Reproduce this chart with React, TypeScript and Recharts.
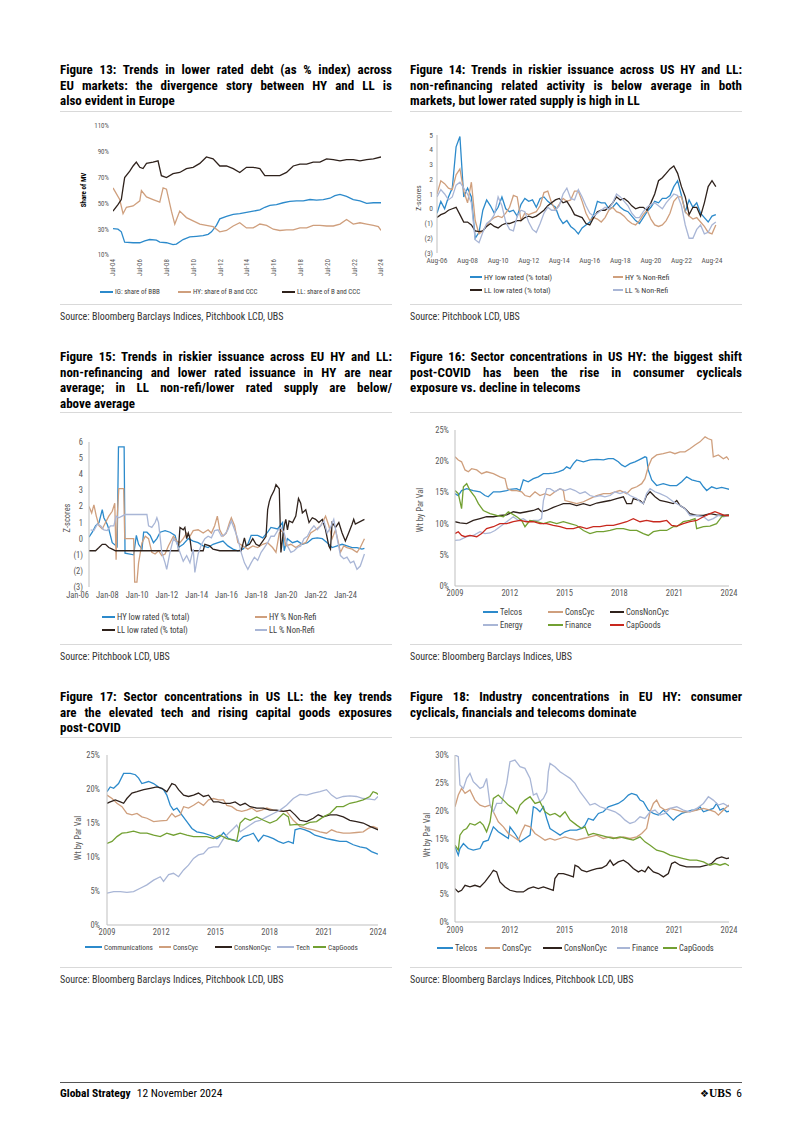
import React from "react";
import { LineChart, Line, XAxis, YAxis } from "recharts";

type Pt = [number, number];

const FONT = '"Liberation Sans Narrow", "Arial Narrow", "Roboto Condensed", Roboto, sans-serif';
const TICK = "#595959";
const AXIS = "#BFBFBF";
const RULE = "#D9D9D9";

const BLUE = "#2C8ACB";
const TAN = "#CF9F7D";
const DARK = "#2F221C";
const GREY = "#A9B6D6";
const GREEN = "#72A032";
const RED = "#C8281E";

// Figure 13 (share of MV, %)
const ig13: Pt[] = [[2004.5,30.5],[2004.87,30],[2005.12,28],[2005.37,20],[2006.0,19.5],[2006.5,19.5],[2006.87,21],[2007.24,22],[2007.74,21.5],[2007.99,20],[2008.49,19.5],[2008.98,18],[2009.23,18.5],[2009.73,22],[2010.23,24],[2010.73,24.5],[2011.22,25],[2011.6,26],[2011.85,28],[2012.22,33],[2012.47,38],[2012.97,40],[2013.47,41.5],[2013.96,42],[2014.46,43],[2014.96,44],[2015.46,45],[2015.83,47],[2016.21,48.5],[2016.7,49],[2017.2,50.5],[2017.7,51.5],[2018.2,52],[2018.7,52],[2019.2,53],[2019.69,52.5],[2020.19,53],[2020.69,54],[2021.06,56],[2021.44,57],[2021.93,55.5],[2022.43,53],[2022.93,52],[2023.43,50],[2023.93,50.5],[2024.5,50.5]];
const hy13: Pt[] = [[2004.5,62],[2005.0,53],[2005.25,42],[2005.5,47],[2006.0,48],[2006.5,52],[2006.62,60],[2007.0,55],[2007.49,53],[2007.99,51],[2008.24,62],[2008.49,61],[2008.86,44],[2009.11,34],[2009.48,44],[2009.98,39],[2010.48,36.5],[2010.98,34],[2011.47,33],[2011.97,32],[2012.47,28],[2012.97,29],[2013.47,32.5],[2013.96,35],[2014.46,31],[2014.96,31],[2015.46,34],[2015.96,33],[2016.46,30],[2016.95,29],[2017.45,29.5],[2017.95,29.5],[2018.45,31],[2018.95,31],[2019.44,33],[2019.94,33],[2020.44,32.5],[2020.94,32.5],[2021.44,34],[2021.93,37.5],[2022.43,34],[2022.93,35],[2023.43,34],[2023.93,33],[2024.3,32],[2024.5,29]];
const ll13: Pt[] = [[2004.5,44],[2004.87,49],[2005.12,53],[2005.25,62],[2005.37,70],[2005.75,75],[2006.0,79],[2006.24,82],[2006.5,78],[2006.74,77],[2007.0,81],[2007.49,82],[2007.86,83],[2008.11,71.5],[2008.49,70],[2008.98,73],[2009.48,74],[2009.98,77],[2010.48,78],[2010.98,81],[2011.47,86],[2011.97,84.5],[2012.47,79],[2012.97,79],[2013.47,77],[2013.96,74],[2014.46,78],[2014.96,78],[2015.46,77],[2015.83,71.5],[2016.46,71.5],[2016.95,71.5],[2017.45,74],[2017.95,79],[2018.45,80.5],[2018.95,80.5],[2019.44,82],[2019.94,82],[2020.44,84.5],[2020.94,84],[2021.44,83],[2021.93,84],[2022.43,84],[2022.93,83],[2023.43,84],[2023.93,84.5],[2024.5,86]];
const xTicks13 = [2004.5, 2006.5, 2008.5, 2010.5, 2012.5, 2014.5, 2016.5, 2018.5, 2020.5, 2022.5, 2024.5];
const xLabels13 = ["Jul-04", "Jul-06", "Jul-08", "Jul-10", "Jul-12", "Jul-14", "Jul-16", "Jul-18", "Jul-20", "Jul-22", "Jul-24"];
const yTicks13 = [10, 30, 50, 70, 90, 110];

// Figure 14 (z-scores, quarterly from Aug-06)
const start14 = 2006.583;
const hyLow14 = [-0.3,0.5,0,0.8,1.4,4.2,4.9,0.8,1.4,0.8,-2.0,-1.6,-0.1,0.6,0.2,-0.3,0.1,0.8,0,-0.2,-0.1,-0.5,0.3,0.7,0.5,0.6,0.1,0.7,0.8,0.5,0.3,0.1,-0.6,-1.0,-0.8,-1.2,-1.4,-1.7,-1.3,-1.1,-0.9,-0.4,0.5,0.4,0.4,0,0.1,0.4,0.1,-0.1,-0.2,-0.5,-0.8,-1.0,-0.6,-0.2,0.1,0.5,0.4,0.7,0.7,0.9,1.5,1.9,0.9,-0.2,0.6,0.1,0.4,-0.3,-0.6,-0.9,-0.5,-0.4];
const hyNonRefi14 = [1.0,1.9,1.7,1.4,1.3,2.3,2.7,1.2,0.4,1.8,-0.8,-1.7,-1.5,-1.1,-0.8,-0.6,-0.5,-0.6,-0.3,0.1,0.9,0.8,-0.8,-0.3,-0.4,-0.3,-0.2,0.2,1.1,1.2,0.4,-0.1,0.3,0.7,0.5,0.6,1.2,1.2,0.5,-0.3,-0.8,-0.6,-0.7,-0.9,-0.6,-0.1,0.1,-0.2,-0.3,-0.5,-0.8,-1.0,-1.1,-0.8,-0.4,-0.1,-0.7,-1.1,-1.2,-1.1,-0.8,-0.3,0.5,0.8,0.8,-0.2,-0.5,-0.7,-0.6,-0.9,-1.2,-1.6,-1.7,-1.1];
const llLow14 = [-0.6,-0.4,-0.3,-0.1,0.0,0.1,-0.4,-0.9,-0.9,-1.1,-1.5,-1.55,-1.5,-1.2,-1.0,-1.2,-1.3,-1.1,-1.0,-1.0,-0.9,-0.8,-0.8,-0.6,-0.5,-0.6,-0.5,-0.3,-0.1,0.2,0.4,0.6,0.7,0.4,0.5,0.1,-0.4,-0.5,-0.6,-1.0,-1.1,-0.6,-0.2,-0.1,-0.1,0.1,0.4,0.8,0.6,0.7,0.5,0.2,0.0,0.1,0.1,-0.1,0.4,1.0,1.9,2.1,2.4,2.7,2.9,2.4,1.5,0.8,-0.4,0.1,0.1,-0.5,0.4,1.5,1.9,1.5];
const llNonRefi14 = [0.8,1.3,1.0,0.6,0.8,1.6,1.8,1.4,1.0,0.4,-2.1,-2.3,-1.6,-1.0,-0.8,-0.4,0.8,0.2,-0.9,-1.4,-1.5,-0.5,-0.1,-0.2,-0.9,-1.4,-1.6,-1.0,-0.3,0.1,-0.1,-0.1,0.2,1.0,1.4,0.7,0.6,1.3,0.8,0.2,-0.3,-0.5,-0.3,-0.1,0.1,0.0,0.4,1.0,0.8,0.5,0.2,-0.3,-0.6,-0.6,-0.2,0.1,0.3,0.4,0.2,0.0,0.4,0.7,1.0,0.9,0.2,-1.1,-2.0,-2.0,-1.4,-1.1,-1.7,-1.6,-1.1,-0.9];
const xTicks14 = [2006.583, 2008.583, 2010.583, 2012.583, 2014.583, 2016.583, 2018.583, 2020.583, 2022.583, 2024.583];
const xLabels14 = ["Aug-06", "Aug-08", "Aug-10", "Aug-12", "Aug-14", "Aug-16", "Aug-18", "Aug-20", "Aug-22", "Aug-24"];
const yTicks14 = [-3, -2, -1, 0, 1, 2, 3, 4, 5];

// Figure 15 (z-scores)
const hyLow15: Pt[] = [[2006.0,0.1],[2006.22,0.4],[2006.44,0.8],[2006.67,1.0],[2006.89,1.8],[2007.0,1.3],[2007.22,0.9],[2007.33,0.6],[2007.56,-0.25],[2007.89,-0.5],[2007.98,5.7],[2008.36,5.7],[2008.42,-0.9],[2009.0,-1.0],[2009.18,0.2],[2009.33,-0.35],[2009.56,-0.65],[2009.67,0.4],[2009.89,0.4],[2010.11,0.2],[2010.33,-0.25],[2010.56,0],[2010.78,0.4],[2011.11,0.5],[2011.44,0.4],[2011.78,0.2],[2012.0,-0.55],[2012.33,-0.35],[2012.67,0],[2013.0,-0.15],[2013.33,-0.25],[2013.67,-0.45],[2014.0,-0.55],[2014.33,-0.35],[2014.67,-0.25],[2015.0,-0.15],[2015.33,-0.45],[2015.67,-0.65],[2016.0,-0.75],[2016.33,-0.65],[2016.67,-0.35],[2016.89,0.2],[2017.33,0.2],[2017.67,0.05],[2018.0,0.4],[2018.22,0.7],[2018.67,0.6],[2019.0,1.0],[2019.11,-0.75],[2019.33,0],[2019.67,-0.25],[2020.0,-0.15],[2020.33,-0.35],[2020.67,-0.25],[2021.0,0],[2021.33,0.05],[2021.67,0],[2022.0,-0.25],[2022.33,-0.55],[2022.67,-0.45],[2023.0,-0.35],[2023.33,-0.45],[2023.67,-0.55],[2024.0,-0.55],[2024.33,-0.65],[2024.5,-0.6]];
const hyNonRefi15: Pt[] = [[2006.0,2.0],[2006.18,1.6],[2006.33,2.1],[2006.49,1.4],[2006.67,0.8],[2006.89,0.6],[2007.11,1.0],[2007.33,1.4],[2007.56,1.7],[2007.73,2.2],[2007.82,-1.3],[2007.91,1.6],[2008.0,3.1],[2008.33,3.1],[2008.4,0],[2009.0,0],[2009.07,-2.7],[2009.22,-2.7],[2009.33,-1.5],[2009.56,-0.25],[2009.78,0.15],[2010.0,0],[2010.22,-0.85],[2010.44,-0.95],[2010.67,-0.75],[2010.89,-1.05],[2011.11,-0.95],[2011.33,-0.45],[2011.67,0.15],[2011.89,-0.15],[2012.11,-0.25],[2012.33,0],[2012.56,0.35],[2012.78,0.15],[2013.0,0.5],[2013.33,0.55],[2013.67,0.35],[2014.0,0.55],[2014.22,0.35],[2014.44,0.8],[2014.62,1.4],[2014.78,0.55],[2015.0,0.15],[2015.22,0.35],[2015.44,1.0],[2015.56,1.3],[2015.78,0.8],[2016.0,-0.25],[2016.33,-0.45],[2016.67,-0.65],[2017.0,-0.45],[2017.33,-0.55],[2017.67,-0.35],[2018.0,-0.25],[2018.33,-0.55],[2018.56,-0.85],[2018.78,0.35],[2019.0,0.55],[2019.22,-0.45],[2019.56,-0.35],[2019.89,-0.55],[2020.22,-0.35],[2020.56,-0.25],[2020.89,0.35],[2021.22,0.55],[2021.56,0.8],[2021.89,1.4],[2022.11,0.8],[2022.33,0],[2022.56,0.55],[2022.78,-0.35],[2022.89,-0.85],[2023.11,-0.45],[2023.33,-0.55],[2023.67,-0.65],[2024.0,-0.85],[2024.22,-0.55],[2024.5,0]];
const llLow15: Pt[] = [[2006.0,-0.75],[2006.44,-0.75],[2006.67,-0.55],[2006.89,-0.35],[2007.11,-0.35],[2007.33,-0.55],[2007.56,-0.65],[2007.78,-0.75],[2012.0,-0.75],[2012.11,0.7],[2012.33,0.55],[2012.44,0.7],[2012.56,0],[2012.67,0.35],[2012.78,0],[2012.89,-0.75],[2013.67,-0.75],[2013.78,-0.35],[2014.11,-0.45],[2014.33,-0.65],[2014.78,-0.75],[2016.22,-0.75],[2016.33,-0.35],[2016.44,0.05],[2016.56,-0.45],[2016.78,-0.35],[2017.0,0],[2017.22,-0.35],[2017.44,-0.45],[2017.67,-0.15],[2017.89,0.15],[2018.0,1.8],[2018.11,2.3],[2018.22,2.6],[2018.44,3.0],[2018.56,3.35],[2018.78,3.1],[2018.89,-0.85],[2019.0,0],[2019.11,0.8],[2019.22,1.2],[2019.33,0.55],[2019.44,1.1],[2019.67,1.0],[2019.89,1.4],[2020.07,2.5],[2020.22,2.2],[2020.33,1.6],[2020.56,1.8],[2020.78,1.0],[2021.0,1.3],[2021.22,1.2],[2021.44,1.0],[2021.67,1.2],[2021.89,0.55],[2022.11,-0.45],[2022.22,-0.65],[2022.33,1.0],[2022.56,0.7],[2022.78,1.0],[2023.0,0.35],[2023.22,-0.15],[2023.44,0.35],[2023.67,0.9],[2023.78,1.2],[2023.89,0.9],[2024.5,1.2]];
const llNonRefi15: Pt[] = [[2006.11,0.55],[2006.33,0.5],[2006.56,0.9],[2006.78,0.8],[2007.0,0.55],[2007.22,0.5],[2007.44,0.8],[2007.67,0.8],[2007.82,1.4],[2008.0,1.3],[2008.22,1.4],[2008.44,1.5],[2009.89,1.5],[2010.0,0.8],[2010.22,0.7],[2010.44,1.0],[2010.56,1.3],[2010.67,1.0],[2010.89,-0.85],[2011.11,-1.5],[2011.22,-1.9],[2011.44,-0.85],[2011.67,0],[2011.89,-0.25],[2012.11,-0.85],[2012.33,-1.4],[2012.56,-1.05],[2012.78,-1.5],[2013.0,-0.65],[2013.11,-2.1],[2013.33,-0.95],[2013.56,-0.35],[2013.78,0],[2014.0,0.15],[2014.22,0.05],[2014.44,0.5],[2014.67,0.55],[2014.89,0.15],[2015.11,0.25],[2015.33,0.55],[2015.56,1.1],[2015.78,0.55],[2016.0,0],[2016.22,-0.85],[2016.44,-1.5],[2016.67,-1.9],[2016.89,-1.5],[2017.11,-1.15],[2017.33,-1.35],[2017.56,-0.85],[2017.78,-0.55],[2018.0,-0.25],[2018.22,0.15],[2018.44,0.15],[2018.67,0.5],[2018.89,0.7],[2019.11,0.35],[2019.33,-0.45],[2019.56,-0.85],[2019.78,-0.75],[2020.0,-0.55],[2020.22,-0.45],[2020.44,0],[2020.67,0.15],[2020.89,0.55],[2021.11,0.8],[2021.33,0.55],[2021.56,0.8],[2021.78,1.1],[2022.0,0.35],[2022.22,0.7],[2022.44,1.2],[2022.67,0],[2022.89,-1.05],[2023.11,-1.25],[2023.33,-1.15],[2023.56,-1.5],[2023.78,-1.4],[2024.0,-1.9],[2024.22,-1.7],[2024.5,-0.95]];
const xTicks15 = [2006, 2008, 2010, 2012, 2014, 2016, 2018, 2020, 2022, 2024];
const xLabels15 = ["Jan-06", "Jan-08", "Jan-10", "Jan-12", "Jan-14", "Jan-16", "Jan-18", "Jan-20", "Jan-22", "Jan-24"];
const yTicks15 = [-3, -2, -1, 0, 1, 2, 3, 4, 5, 6];

// Figure 16 (US HY weights, %)
const telcos16: Pt[] = [[2009.0,14.8],[2009.18,14.5],[2009.36,15.3],[2009.64,15.6],[2010.0,15.3],[2010.37,15.1],[2010.64,14.5],[2010.82,14.3],[2011.1,15.1],[2011.46,15.1],[2011.83,15.3],[2012.0,15.5],[2012.38,15.6],[2012.56,15.3],[2012.74,17.0],[2013.01,16.7],[2013.29,17.2],[2013.56,17.5],[2013.84,18.0],[2014.11,18.0],[2014.38,18.1],[2014.66,18.3],[2014.93,18.6],[2015.11,19.1],[2015.3,18.8],[2015.48,19.6],[2015.66,20.2],[2016.03,19.9],[2016.39,20.2],[2016.76,20.3],[2017.13,20.2],[2017.39,20.4],[2017.67,20.4],[2017.94,19.9],[2018.12,19.4],[2018.31,19.1],[2018.58,19.6],[2018.85,19.9],[2019.13,20.3],[2019.4,20.7],[2019.49,20.6],[2019.58,18.6],[2019.77,17.0],[2020.04,16.1],[2020.4,16.4],[2020.77,16.1],[2021.14,16.1],[2021.41,16.7],[2021.68,17.5],[2021.96,17.0],[2022.23,16.8],[2022.41,16.7],[2022.6,15.9],[2022.78,15.3],[2023.05,15.9],[2023.32,15.6],[2023.6,15.8],[2023.87,15.6],[2024.0,15.5]];
const consCyc16: Pt[] = [[2009.0,20.7],[2009.18,20.2],[2009.36,19.9],[2009.55,18.6],[2009.73,18.3],[2009.91,18.8],[2010.19,18.6],[2010.46,18.0],[2010.73,18.3],[2011.1,18.0],[2011.46,17.5],[2011.74,17.2],[2011.87,15.6],[2012.1,15.3],[2012.38,15.3],[2012.65,15.1],[2012.83,14.5],[2013.1,14.3],[2013.38,15.1],[2013.65,14.5],[2013.93,14.8],[2014.2,14.5],[2014.47,15.1],[2014.75,15.6],[2014.93,15.3],[2015.02,13.7],[2015.3,13.5],[2015.66,13.2],[2016.03,13.5],[2016.39,14.0],[2016.76,14.5],[2017.13,14.8],[2017.49,14.8],[2017.76,15.1],[2018.03,15.3],[2018.4,14.8],[2018.67,15.6],[2018.95,15.9],[2019.22,16.4],[2019.4,17.2],[2019.58,19.1],[2019.77,20.4],[2020.04,21.0],[2020.4,21.2],[2020.77,21.5],[2021.04,21.2],[2021.32,21.5],[2021.59,21.5],[2021.86,22.0],[2022.14,22.6],[2022.41,23.1],[2022.69,23.9],[2022.87,23.6],[2023.05,23.4],[2023.14,20.7],[2023.42,21.0],[2023.69,20.4],[2023.87,20.7],[2024.0,20.2]];
const consNonCyc16: Pt[] = [[2009.0,10.3],[2009.27,10.1],[2009.64,10.0],[2010.0,10.5],[2010.37,10.8],[2010.73,11.1],[2011.1,11.1],[2011.46,11.3],[2011.83,11.4],[2012.19,11.9],[2012.56,11.7],[2012.92,11.9],[2013.29,12.1],[2013.56,12.4],[2013.74,11.9],[2014.02,12.1],[2014.38,12.6],[2014.66,12.9],[2014.93,13.2],[2015.3,13.2],[2015.66,12.9],[2016.03,13.2],[2016.39,12.9],[2016.76,13.3],[2017.13,13.5],[2017.49,13.7],[2017.85,14.0],[2018.22,14.3],[2018.4,13.2],[2018.67,13.2],[2018.76,14.0],[2019.13,13.7],[2019.31,13.2],[2019.49,14.5],[2019.68,15.1],[2019.95,14.3],[2020.22,13.7],[2020.59,13.5],[2020.95,13.2],[2021.14,13.7],[2021.32,12.9],[2021.59,12.4],[2021.86,11.6],[2022.23,11.3],[2022.6,11.3],[2022.96,11.6],[2023.32,11.4],[2023.69,11.3],[2024.0,11.4]];
const energy16: Pt[] = [[2009.0,7.3],[2009.27,7.4],[2009.64,7.9],[2010.0,8.1],[2010.37,8.7],[2010.64,8.4],[2010.92,8.5],[2011.19,8.9],[2011.46,9.5],[2011.83,10.3],[2012.19,11.1],[2012.47,10.5],[2012.74,10.8],[2013.01,10.3],[2013.29,10.5],[2013.56,10.5],[2013.74,10.8],[2013.84,13.7],[2014.02,15.6],[2014.2,15.6],[2014.47,15.1],[2014.75,15.6],[2015.02,15.3],[2015.3,15.6],[2015.57,15.3],[2015.84,14.8],[2016.12,15.1],[2016.39,14.5],[2016.66,14.3],[2016.94,14.5],[2017.21,14.3],[2017.49,14.5],[2017.76,15.1],[2018.03,14.8],[2018.31,15.1],[2018.58,14.5],[2018.95,14.0],[2019.13,13.5],[2019.31,13.2],[2019.49,14.8],[2019.68,15.6],[2019.95,15.1],[2020.22,14.8],[2020.59,14.3],[2020.95,13.5],[2021.32,12.9],[2021.59,12.4],[2021.86,11.3],[2022.23,11.3],[2022.6,11.1],[2022.87,10.5],[2023.14,10.8],[2023.42,11.3],[2023.69,11.1],[2024.0,11.3]];
const finance16: Pt[] = [[2009.0,15.3],[2009.18,14.8],[2009.36,12.4],[2009.46,15.9],[2009.64,16.4],[2009.82,15.3],[2010.09,14.3],[2010.28,13.2],[2010.55,12.1],[2010.92,11.6],[2011.28,11.3],[2011.65,11.1],[2011.92,11.9],[2012.1,11.6],[2012.38,11.1],[2012.65,10.5],[2012.83,9.5],[2013.1,10.5],[2013.47,10.3],[2013.84,10.0],[2014.2,10.3],[2014.57,10.0],[2014.93,10.3],[2015.3,10.0],[2015.66,9.7],[2016.03,8.9],[2016.39,8.4],[2016.76,8.7],[2017.13,8.7],[2017.49,8.9],[2017.85,9.2],[2018.22,9.2],[2018.58,8.9],[2018.95,8.9],[2019.31,8.4],[2019.58,8.1],[2019.86,8.7],[2020.22,8.9],[2020.59,8.9],[2020.95,9.5],[2021.14,9.5],[2021.5,10.3],[2021.86,10.5],[2022.14,10.8],[2022.23,9.2],[2022.6,9.5],[2022.96,9.6],[2023.32,10.0],[2023.6,11.1],[2023.87,11.3],[2024.0,11.3]];
const capGoods16: Pt[] = [[2009.0,8.4],[2009.18,8.7],[2009.36,8.1],[2009.55,7.9],[2009.82,8.1],[2010.19,7.9],[2010.46,8.4],[2010.73,9.2],[2011.1,9.5],[2011.46,10.0],[2011.83,10.0],[2012.19,10.3],[2012.56,10.5],[2012.92,10.3],[2013.29,10.3],[2013.65,10.0],[2014.02,10.0],[2014.38,9.7],[2014.75,9.5],[2015.11,9.2],[2015.48,9.2],[2015.84,9.5],[2016.21,9.2],[2016.57,9.5],[2016.94,9.5],[2017.3,9.7],[2017.67,9.7],[2018.03,10.0],[2018.4,10.3],[2018.76,10.8],[2019.13,10.3],[2019.49,10.5],[2019.86,10.3],[2020.22,10.3],[2020.59,10.5],[2020.86,9.7],[2021.14,9.6],[2021.5,10.0],[2021.86,10.3],[2022.23,10.5],[2022.6,11.1],[2022.96,11.6],[2023.23,11.9],[2023.51,11.6],[2023.78,11.3],[2024.0,11.3]];

// Figure 17 (US LL weights, %)
const comms17: Pt[] = [[2009.0,19.6],[2009.18,20.3],[2009.37,20.1],[2009.64,20.8],[2009.92,22.3],[2010.29,22.3],[2010.57,22.1],[2010.75,21.6],[2010.93,20.8],[2011.3,21.1],[2011.58,20.8],[2011.85,20.3],[2012.13,19.9],[2012.31,19.1],[2012.5,17.6],[2012.68,16.9],[2012.87,17.2],[2013.14,16.2],[2013.42,15.2],[2013.7,14.2],[2013.97,13.7],[2014.34,13.5],[2014.71,13.2],[2015.08,12.7],[2015.26,13.0],[2015.45,13.6],[2015.72,12.7],[2016.0,12.5],[2016.27,12.3],[2016.55,13.0],[2016.83,13.2],[2017.1,13.5],[2017.38,12.3],[2017.66,13.2],[2017.93,13.0],[2018.21,12.7],[2018.48,12.3],[2018.76,12.0],[2019.04,12.3],[2019.31,12.0],[2019.41,14.0],[2019.68,14.2],[2019.96,14.0],[2020.23,13.7],[2020.51,13.2],[2020.79,13.0],[2021.15,12.7],[2021.52,12.5],[2021.89,12.3],[2022.26,12.3],[2022.63,11.8],[2023.0,11.5],[2023.36,11.3],[2023.64,10.8],[2023.92,10.5],[2024.0,10.4]];
const consCyc17: Pt[] = [[2009.0,19.1],[2009.28,18.6],[2009.55,17.9],[2009.83,17.4],[2010.1,16.4],[2010.38,16.2],[2010.66,16.4],[2010.93,15.9],[2011.21,15.7],[2011.58,15.2],[2011.95,15.3],[2012.31,15.4],[2012.59,16.4],[2012.78,15.9],[2013.05,16.2],[2013.24,17.4],[2013.51,17.2],[2013.79,17.6],[2014.06,18.1],[2014.34,17.6],[2014.62,18.4],[2014.89,18.6],[2015.17,18.4],[2015.45,18.4],[2015.63,17.6],[2015.91,17.4],[2016.18,16.9],[2016.46,16.7],[2016.73,16.9],[2017.01,17.2],[2017.29,16.7],[2017.56,16.9],[2017.84,17.2],[2018.21,16.9],[2018.58,16.7],[2018.94,16.7],[2019.31,15.4],[2019.68,14.5],[2020.05,14.2],[2020.42,14.0],[2020.79,13.7],[2021.15,13.5],[2021.43,14.0],[2021.71,13.7],[2022.08,13.5],[2022.44,13.5],[2022.81,13.6],[2023.18,13.7],[2023.46,14.2],[2023.73,14.5],[2024.0,14.2]];
const consNonCyc17: Pt[] = [[2009.0,17.9],[2009.18,18.1],[2009.46,18.4],[2009.74,18.1],[2009.92,17.9],[2010.1,18.6],[2010.38,19.4],[2010.66,19.6],[2011.03,19.9],[2011.39,20.1],[2011.76,20.3],[2012.04,20.1],[2012.31,19.6],[2012.59,20.8],[2012.78,20.6],[2012.96,19.9],[2013.24,19.1],[2013.51,18.9],[2013.79,19.1],[2014.06,19.4],[2014.34,18.9],[2014.62,19.1],[2014.89,18.1],[2015.17,18.1],[2015.45,17.9],[2015.81,17.9],[2016.09,18.1],[2016.37,17.6],[2016.64,17.9],[2016.92,17.4],[2017.29,17.2],[2017.66,17.2],[2018.02,16.9],[2018.39,16.9],[2018.76,16.7],[2019.13,16.9],[2019.41,16.2],[2019.68,15.4],[2020.05,15.2],[2020.42,15.7],[2020.69,16.2],[2020.97,15.9],[2021.34,16.2],[2021.71,16.2],[2022.08,15.9],[2022.44,15.4],[2022.81,15.2],[2023.18,15.0],[2023.55,14.5],[2023.82,14.2],[2024.0,14.0]];
const tech17: Pt[] = [[2009.0,4.7],[2009.37,4.9],[2009.74,4.9],[2010.1,4.8],[2010.47,4.9],[2010.84,5.4],[2011.21,5.9],[2011.58,6.6],[2011.95,7.1],[2012.13,6.4],[2012.41,7.4],[2012.68,7.6],[2012.96,7.1],[2013.24,8.1],[2013.51,8.8],[2013.79,9.8],[2014.06,10.3],[2014.34,10.5],[2014.62,11.3],[2014.89,11.5],[2015.17,11.5],[2015.45,12.7],[2015.72,13.5],[2016.0,14.2],[2016.18,14.7],[2016.37,13.7],[2016.64,14.2],[2016.92,14.7],[2017.2,15.2],[2017.47,15.4],[2017.84,15.9],[2018.21,16.4],[2018.58,16.9],[2018.94,17.6],[2019.31,18.6],[2019.68,19.2],[2020.05,19.1],[2020.42,19.4],[2020.79,19.6],[2021.15,19.9],[2021.43,19.1],[2021.71,18.6],[2022.08,18.9],[2022.44,19.0],[2022.81,18.9],[2023.18,18.6],[2023.55,18.5],[2023.82,18.4],[2024.0,18.9]];
const capGoods17: Pt[] = [[2009.0,12.0],[2009.28,12.3],[2009.55,13.0],[2009.83,13.5],[2010.1,13.6],[2010.47,13.8],[2010.84,13.5],[2011.21,13.5],[2011.58,13.2],[2011.95,13.0],[2012.31,13.5],[2012.68,13.2],[2013.05,13.5],[2013.42,13.2],[2013.79,13.0],[2014.16,13.0],[2014.52,13.0],[2014.89,12.7],[2015.26,13.2],[2015.63,12.7],[2016.0,12.5],[2016.18,12.3],[2016.37,15.0],[2016.64,15.7],[2016.92,15.4],[2017.29,15.9],[2017.66,15.4],[2018.02,15.0],[2018.39,15.4],[2018.76,16.4],[2019.04,15.9],[2019.13,14.7],[2019.5,14.8],[2019.87,14.7],[2020.23,15.1],[2020.6,15.2],[2020.97,15.9],[2021.34,16.4],[2021.71,17.4],[2022.08,17.4],[2022.44,17.9],[2022.81,18.1],[2023.18,18.4],[2023.55,18.9],[2023.73,19.6],[2023.92,19.4],[2024.0,19.2]];

// Figure 18 (EU HY weights, %)
const telcos18: Pt[] = [[2009.0,13.5],[2009.18,12.0],[2009.27,13.2],[2009.46,14.1],[2009.73,13.2],[2010.0,12.9],[2010.37,13.2],[2010.55,14.4],[2010.82,14.7],[2011.1,17.1],[2011.37,16.2],[2011.65,15.6],[2011.92,15.0],[2012.01,17.1],[2012.28,15.9],[2012.56,14.4],[2012.83,15.0],[2013.11,15.6],[2013.29,20.7],[2013.47,20.4],[2013.65,19.8],[2013.84,20.7],[2014.02,18.6],[2014.2,16.8],[2014.47,16.2],[2014.75,15.6],[2015.02,16.2],[2015.3,16.5],[2015.66,16.5],[2015.93,16.8],[2016.12,17.4],[2016.3,18.6],[2016.57,18.3],[2016.85,19.5],[2017.12,19.8],[2017.39,20.7],[2017.67,21.0],[2017.94,21.3],[2018.22,21.9],[2018.49,22.8],[2018.67,23.1],[2018.95,22.8],[2019.13,21.9],[2019.31,21.6],[2019.58,20.1],[2019.86,19.5],[2020.13,19.2],[2020.41,20.1],[2020.68,19.2],[2020.95,18.3],[2021.14,18.9],[2021.41,19.5],[2021.68,19.8],[2021.96,20.1],[2022.23,20.1],[2022.41,20.7],[2022.6,19.8],[2022.87,20.1],[2023.14,20.4],[2023.32,21.3],[2023.51,20.1],[2023.69,20.4],[2023.87,19.8],[2024.0,19.9]];
const consCyc18: Pt[] = [[2009.0,20.7],[2009.18,22.8],[2009.36,24.0],[2009.55,23.1],[2009.82,23.7],[2010.09,21.9],[2010.37,21.0],[2010.64,20.7],[2010.92,21.0],[2011.1,19.8],[2011.37,18.0],[2011.65,17.1],[2011.92,15.9],[2012.19,15.3],[2012.47,14.7],[2012.65,16.2],[2012.83,17.4],[2013.11,17.1],[2013.38,15.9],[2013.65,15.3],[2013.93,14.7],[2014.2,15.0],[2014.47,14.7],[2014.75,15.0],[2015.02,15.3],[2015.3,15.0],[2015.66,14.7],[2016.03,15.0],[2016.39,15.3],[2016.76,15.6],[2017.12,15.0],[2017.49,15.3],[2017.85,15.0],[2018.22,15.3],[2018.58,15.0],[2018.95,15.3],[2019.22,15.9],[2019.49,16.8],[2019.68,19.8],[2019.86,21.3],[2020.04,21.9],[2020.22,20.7],[2020.5,20.1],[2020.77,20.4],[2021.14,20.1],[2021.5,19.8],[2021.86,19.8],[2022.23,20.1],[2022.6,20.4],[2022.96,20.1],[2023.23,19.8],[2023.42,19.2],[2023.6,19.8],[2023.78,20.4],[2024.0,21.0]];
const consNonCyc18: Pt[] = [[2009.0,6.0],[2009.18,5.4],[2009.36,5.7],[2009.55,6.6],[2009.82,6.3],[2010.09,6.6],[2010.37,6.3],[2010.64,7.2],[2010.92,8.4],[2011.1,9.3],[2011.28,9.0],[2011.46,7.2],[2011.74,6.3],[2012.01,5.7],[2012.38,5.4],[2012.74,5.4],[2013.01,6.0],[2013.29,6.3],[2013.56,6.0],[2013.84,6.3],[2014.11,6.0],[2014.38,5.7],[2014.47,7.8],[2014.66,8.7],[2014.93,8.7],[2015.2,8.4],[2015.48,8.1],[2015.57,10.2],[2015.75,9.9],[2015.93,9.3],[2016.21,9.0],[2016.48,9.3],[2016.76,9.6],[2017.03,9.7],[2017.3,10.2],[2017.49,11.1],[2017.67,10.2],[2017.94,10.8],[2018.22,11.1],[2018.49,10.5],[2018.76,9.6],[2019.04,9.0],[2019.22,9.3],[2019.4,9.0],[2019.58,9.9],[2019.86,9.0],[2020.13,8.7],[2020.41,8.1],[2020.68,8.7],[2020.86,10.5],[2021.04,10.8],[2021.32,10.2],[2021.68,9.9],[2022.05,9.9],[2022.41,9.9],[2022.78,10.2],[2023.05,10.5],[2023.32,11.4],[2023.6,11.7],[2023.87,11.4],[2024.0,11.5]];
const finance18: Pt[] = [[2009.0,30.0],[2009.18,29.7],[2009.27,24.6],[2009.46,24.0],[2009.64,25.8],[2009.82,26.7],[2010.0,25.2],[2010.19,24.6],[2010.37,24.0],[2010.55,24.3],[2010.73,25.8],[2010.92,21.0],[2011.1,19.8],[2011.28,21.3],[2011.55,21.3],[2011.83,24.9],[2012.01,28.8],[2012.28,29.1],[2012.56,27.9],[2012.83,27.6],[2013.11,25.8],[2013.29,22.8],[2013.47,23.1],[2013.65,21.6],[2013.84,22.2],[2014.02,23.4],[2014.11,27.0],[2014.2,28.5],[2014.47,27.9],[2014.75,27.0],[2015.02,26.4],[2015.3,25.8],[2015.57,24.9],[2015.84,23.4],[2016.12,22.2],[2016.39,21.0],[2016.66,21.3],[2016.94,20.7],[2017.21,20.4],[2017.49,20.1],[2017.76,19.8],[2018.03,19.2],[2018.31,18.3],[2018.58,17.7],[2018.85,18.0],[2019.13,18.9],[2019.4,18.6],[2019.68,19.8],[2019.95,20.1],[2020.22,19.2],[2020.5,19.5],[2020.77,20.4],[2021.14,20.7],[2021.5,20.1],[2021.86,19.8],[2022.23,20.4],[2022.6,21.3],[2022.87,22.5],[2023.14,21.9],[2023.42,21.0],[2023.69,21.3],[2024.0,20.7]];
const capGoods18: Pt[] = [[2009.0,13.8],[2009.18,12.9],[2009.27,15.6],[2009.46,16.5],[2009.64,16.8],[2009.82,17.7],[2010.09,17.4],[2010.37,18.0],[2010.55,17.4],[2010.73,16.2],[2010.92,18.0],[2011.1,22.2],[2011.37,22.8],[2011.65,21.9],[2011.92,21.0],[2012.19,20.4],[2012.38,19.5],[2012.56,21.0],[2012.83,21.9],[2013.11,22.5],[2013.38,21.3],[2013.65,21.6],[2013.93,19.8],[2014.2,19.2],[2014.47,19.5],[2014.75,18.9],[2015.02,19.8],[2015.3,18.3],[2015.66,17.4],[2015.93,16.8],[2016.12,17.1],[2016.3,15.6],[2016.57,15.9],[2016.94,15.6],[2017.3,15.3],[2017.67,15.0],[2018.03,15.3],[2018.4,15.0],[2018.76,14.7],[2019.13,15.3],[2019.4,14.4],[2019.68,13.8],[2020.04,12.9],[2020.41,12.6],[2020.77,12.0],[2021.14,11.7],[2021.5,11.4],[2021.86,11.1],[2022.23,11.1],[2022.6,10.8],[2022.96,10.2],[2023.23,10.5],[2023.51,10.2],[2023.78,10.5],[2024.0,10.1]];

const yearTicks = [2009, 2012, 2015, 2018, 2021, 2024];
const yearLabels = ["2009", "2012", "2015", "2018", "2021", "2024"];
const pctTicks25 = [0, 5, 10, 15, 20, 25];
const pctTicks30 = [0, 5, 10, 15, 20, 25, 30];

const quarterly = (start: number, vals: number[]): Pt[] => vals.map((v, i) => [start + i * 0.25, v]);
const zFmt = (v: number) => (v < 0 ? `(${-v})` : `${v}`);
const pctFmt = (v: number) => `${v}%`;

type Series = { name: string; pts: Pt[]; color: string };
type PanelProps = {
  left: number; top: number; width: number; height: number;
  mTop: number; mRight: number; yWidth: number; xHeight: number;
  xDomain: [number, number]; xTicks: number[]; xLabels: string[]; xMode: "rot" | "mid" | "end"; xGap: number;
  yDomain: [number, number]; yTicks: number[]; yFmt: (v: number) => string; yGap: number;
  axisX: boolean; axisY: boolean; fs: number; series: Series[];
};

function Panel(p: PanelProps) {
  const xTick = (tp: any) => {
    const i = p.xTicks.indexOf(tp.payload.value);
    const label = i >= 0 ? p.xLabels[i] : "";
    if (p.xMode === "rot") {
      return (
        <text x={tp.x} y={tp.y} transform={`rotate(-90 ${tp.x} ${tp.y})`} textAnchor="end" dy="0.35em" fill={TICK} fontSize={p.fs} fontFamily={FONT}>
          {label}
        </text>
      );
    }
    return (
      <text x={tp.x} y={tp.y} textAnchor={p.xMode === "end" ? "end" : "middle"} dy="0.71em" fill={TICK} fontSize={p.fs} fontFamily={FONT}>
        {label}
      </text>
    );
  };
  return (
    <div style={{ position: "absolute", left: p.left, top: p.top }}>
      <LineChart width={p.width} height={p.height} margin={{ top: p.mTop, right: p.mRight, bottom: 0, left: 0 }}>
        <XAxis dataKey="t" type="number" domain={p.xDomain} ticks={p.xTicks} interval={0} allowDataOverflow height={p.xHeight}
          tickSize={0} tickMargin={p.xGap} tickLine={false} axisLine={p.axisX ? { stroke: AXIS } : false} tick={xTick} />
        <YAxis type="number" domain={p.yDomain} ticks={p.yTicks} interval={0} allowDataOverflow width={p.yWidth}
          tickSize={0} tickMargin={p.yGap} tickLine={false} axisLine={p.axisY ? { stroke: AXIS } : false}
          tickFormatter={p.yFmt} tick={{ fill: TICK, fontSize: p.fs, fontFamily: FONT }} />
        {p.series.map((s) => (
          <Line key={s.name} data={s.pts.map(([t, v]) => ({ t, v }))} dataKey="v" name={s.name} type="linear"
            stroke={s.color} strokeWidth={1.3} dot={false} isAnimationActive={false} />
        ))}
      </LineChart>
    </div>
  );
}

function Title({ left, top, lines }: { left: number; top: number; lines: string[] }) {
  return (
    <div style={{ position: "absolute", left, top, width: 332, fontFamily: FONT, fontWeight: 700, fontSize: 13, lineHeight: "15.5px", color: "#000" }}>
      {lines.map((l, i) => {
        const last = i === lines.length - 1;
        return (
          <div key={i} style={{ whiteSpace: "nowrap", textAlign: last ? "left" : "justify", textAlignLast: last ? "left" : "justify" }}>{l}</div>
        );
      })}
    </div>
  );
}

function Rule({ left, top, width = 332, color = RULE }: { left: number; top: number; width?: number; color?: string }) {
  return <div style={{ position: "absolute", left, top, width, height: 1, background: color }} />;
}

function Source({ left, top, text }: { left: number; top: number; text: string }) {
  return <div style={{ position: "absolute", left, top, fontFamily: FONT, fontSize: 10, lineHeight: "12px", color: "#333", whiteSpace: "nowrap" }}>{text}</div>;
}

function AxisTitle({ cx, cy, text, bold = false, size = 8.5 }: { cx: number; cy: number; text: string; bold?: boolean; size?: number }) {
  return (
    <div style={{ position: "absolute", left: cx, top: cy, transform: "translate(-50%, -50%) rotate(-90deg)", fontFamily: FONT, fontSize: size, fontWeight: bold ? 700 : 400, color: bold ? "#000" : TICK, whiteSpace: "nowrap" }}>
      {text}
    </div>
  );
}

type Key = { x: number; len: number; y: number; label: string; color: string };
function Legend({ items, size }: { items: Key[]; size: number }) {
  return (
    <>
      {items.map((k) => (
        <div key={k.label + k.x + k.y} style={{ position: "absolute", left: k.x, top: k.y - 6, height: 12, display: "flex", alignItems: "center", fontFamily: FONT, fontSize: size, color: "#404040", whiteSpace: "nowrap" }}>
          <span style={{ display: "inline-block", width: k.len, height: 2, background: k.color, marginRight: 2 }} />
          {k.label}
        </div>
      ))}
    </>
  );
}

export default function App() {
  return (
    <div style={{ position: "absolute", left: 0, top: 0, width: 802, height: 1134, background: "#fff", overflow: "hidden" }}>
      {/* Figure 13 */}
      <Title left={60} top={62} lines={["Figure 13: Trends in lower rated debt (as % index) across", "EU markets: the divergence story between HY and LL is", "also evident in Europe"]} />
      <Rule left={60} top={111} />
      <AxisTitle cx={84} cy={190} text="Share of MV" bold size={7} />
      <Panel left={60} top={115} width={332} height={170} mTop={11} mRight={11} yWidth={53} xHeight={30}
        xDomain={[2004.5, 2024.5]} xTicks={xTicks13} xLabels={xLabels13} xMode="rot" xGap={4}
        yDomain={[10, 110]} yTicks={yTicks13} yFmt={pctFmt} yGap={4} axisX={false} axisY={false} fs={7}
        series={[{ name: "IG: share of BBB", pts: ig13, color: BLUE }, { name: "HY: share of B and CCC", pts: hy13, color: TAN }, { name: "LL: share of B and CCC", pts: ll13, color: DARK }]} />
      <Legend size={7} items={[
        { x: 100, len: 13, y: 292, label: "IG: share of BBB", color: BLUE },
        { x: 178, len: 13, y: 292, label: "HY: share of B and CCC", color: TAN },
        { x: 282, len: 13, y: 292, label: "LL: share of B and CCC", color: DARK },
      ]} />
      <Rule left={60} top={304} />
      <Source left={60} top={311} text="Source: Bloomberg Barclays Indices, Pitchbook LCD, UBS" />

      {/* Figure 14 */}
      <Title left={410} top={62} lines={["Figure 14: Trends in riskier issuance across US HY and LL:", "non-refinancing related activity is below average in both", "markets, but lower rated supply is high in LL"]} />
      <Rule left={410} top={111} />
      <AxisTitle cx={418} cy={198} text="Z-scores" size={7.5} />
      <Panel left={410} top={125} width={332} height={144} mTop={10} mRight={25} yWidth={27} xHeight={16}
        xDomain={[2006.583, 2024.91]} xTicks={xTicks14} xLabels={xLabels14} xMode="mid" xGap={5}
        yDomain={[-3, 5]} yTicks={yTicks14} yFmt={zFmt} yGap={4} axisX={false} axisY={true} fs={7.5}
        series={[
          { name: "HY low rated (% total)", pts: quarterly(start14, hyLow14), color: BLUE },
          { name: "HY % Non-Refi", pts: quarterly(start14, hyNonRefi14), color: TAN },
          { name: "LL low rated (% total)", pts: quarterly(start14, llLow14), color: DARK },
          { name: "LL % Non-Refi", pts: quarterly(start14, llNonRefi14), color: GREY },
        ]} />
      <Legend size={8} items={[
        { x: 470, len: 12, y: 277, label: "HY low rated (% total)", color: BLUE },
        { x: 613, len: 10, y: 277, label: "HY % Non-Refi", color: TAN },
        { x: 470, len: 12, y: 290, label: "LL low rated (% total)", color: DARK },
        { x: 613, len: 10, y: 290, label: "LL % Non-Refi", color: GREY },
      ]} />
      <Rule left={410} top={304} />
      <Source left={410} top={311} text="Source: Pitchbook LCD, UBS" />

      {/* Figure 15 */}
      <Title left={60} top={349} lines={["Figure 15: Trends in riskier issuance across EU HY and LL:", "non-refinancing and lower rated issuance in HY are near", "average; in LL non-refi/lower rated supply are below/", "above average"]} />
      <Rule left={60} top={412} />
      <AxisTitle cx={67} cy={518} text="Z-scores" size={8.5} />
      <Panel left={60} top={430} width={332} height={174} mTop={12} mRight={24} yWidth={29} xHeight={17}
        xDomain={[2006, 2024.74]} xTicks={xTicks15} xLabels={xLabels15} xMode="end" xGap={5}
        yDomain={[-3, 6]} yTicks={yTicks15} yFmt={zFmt} yGap={6} axisX={false} axisY={true} fs={8.5}
        series={[
          { name: "HY low rated (% total)", pts: hyLow15, color: BLUE },
          { name: "HY % Non-Refi", pts: hyNonRefi15, color: TAN },
          { name: "LL low rated (% total)", pts: llLow15, color: DARK },
          { name: "LL % Non-Refi", pts: llNonRefi15, color: GREY },
        ]} />
      <Legend size={8.5} items={[
        { x: 102, len: 13, y: 617, label: "HY low rated (% total)", color: BLUE },
        { x: 255, len: 12, y: 617, label: "HY % Non-Refi", color: TAN },
        { x: 102, len: 13, y: 630, label: "LL low rated (% total)", color: DARK },
        { x: 255, len: 12, y: 630, label: "LL % Non-Refi", color: GREY },
      ]} />
      <Rule left={60} top={644} />
      <Source left={60} top={651} text="Source: Pitchbook LCD, UBS" />

      {/* Figure 16 */}
      <Title left={410} top={349} lines={["Figure 16: Sector concentrations in US HY: the biggest shift", "post-COVID has been the rise in consumer cyclicals", "exposure vs. decline in telecoms"]} />
      <Rule left={410} top={412} />
      <AxisTitle cx={420} cy={510} text="Wt by Par Val" size={8.5} />
      <Panel left={410} top={420} width={332} height={182} mTop={10} mRight={13} yWidth={45} xHeight={16}
        xDomain={[2009, 2024]} xTicks={yearTicks} xLabels={yearLabels} xMode="mid" xGap={4}
        yDomain={[0, 25]} yTicks={pctTicks25} yFmt={pctFmt} yGap={6} axisX={true} axisY={true} fs={8.5}
        series={[
          { name: "Telcos", pts: telcos16, color: BLUE },
          { name: "ConsCyc", pts: consCyc16, color: TAN },
          { name: "ConsNonCyc", pts: consNonCyc16, color: DARK },
          { name: "Energy", pts: energy16, color: GREY },
          { name: "Finance", pts: finance16, color: GREEN },
          { name: "CapGoods", pts: capGoods16, color: RED },
        ]} />
      <Legend size={8.5} items={[
        { x: 483, len: 15, y: 612, label: "Telcos", color: BLUE },
        { x: 548, len: 15, y: 612, label: "ConsCyc", color: TAN },
        { x: 610, len: 14, y: 612, label: "ConsNonCyc", color: DARK },
        { x: 483, len: 15, y: 625, label: "Energy", color: GREY },
        { x: 548, len: 15, y: 625, label: "Finance", color: GREEN },
        { x: 610, len: 14, y: 625, label: "CapGoods", color: RED },
      ]} />
      <Rule left={410} top={644} />
      <Source left={410} top={651} text="Source: Bloomberg Barclays Indices, UBS" />

      {/* Figure 17 */}
      <Title left={60} top={689} lines={["Figure 17: Sector concentrations in US LL: the key trends", "are the elevated tech and rising capital goods exposures", "post-COVID"]} />
      <Rule left={60} top={737} />
      <AxisTitle cx={78} cy={838} text="Wt by Par Val" size={8.5} />
      <Panel left={60} top={745} width={332} height={196} mTop={10} mRight={14} yWidth={47} xHeight={16}
        xDomain={[2009, 2024]} xTicks={yearTicks} xLabels={yearLabels} xMode="mid" xGap={4}
        yDomain={[0, 25]} yTicks={pctTicks25} yFmt={pctFmt} yGap={7} axisX={true} axisY={true} fs={8.5}
        series={[
          { name: "Communications", pts: comms17, color: BLUE },
          { name: "ConsCyc", pts: consCyc17, color: TAN },
          { name: "ConsNonCyc", pts: consNonCyc17, color: DARK },
          { name: "Tech", pts: tech17, color: GREY },
          { name: "CapGoods", pts: capGoods17, color: GREEN },
        ]} />
      <Legend size={7.3} items={[
        { x: 85, len: 17, y: 947, label: "Communications", color: BLUE },
        { x: 159, len: 12, y: 947, label: "ConsCyc", color: TAN },
        { x: 215, len: 17, y: 947, label: "ConsNonCyc", color: DARK },
        { x: 277, len: 17, y: 947, label: "Tech", color: GREY },
        { x: 313, len: 13, y: 947, label: "CapGoods", color: GREEN },
      ]} />
      <Rule left={60} top={967} />
      <Source left={60} top={974} text="Source: Bloomberg Barclays Indices, Pitchbook LCD, UBS" />

      {/* Figure 18 */}
      <Title left={410} top={689} lines={["Figure 18: Industry concentrations in EU HY: consumer", "cyclicals, financials and telecoms dominate"]} />
      <Rule left={410} top={737} />
      <AxisTitle cx={427} cy={835} text="Wt by Par Val" size={8.5} />
      <Panel left={410} top={745} width={332} height={193} mTop={10} mRight={13} yWidth={45} xHeight={16}
        xDomain={[2009, 2024]} xTicks={yearTicks} xLabels={yearLabels} xMode="mid" xGap={5}
        yDomain={[0, 30]} yTicks={pctTicks30} yFmt={pctFmt} yGap={6} axisX={true} axisY={true} fs={8.5}
        series={[
          { name: "Telcos", pts: telcos18, color: BLUE },
          { name: "ConsCyc", pts: consCyc18, color: TAN },
          { name: "ConsNonCyc", pts: consNonCyc18, color: DARK },
          { name: "Finance", pts: finance18, color: GREY },
          { name: "CapGoods", pts: capGoods18, color: GREEN },
        ]} />
      <Legend size={8.5} items={[
        { x: 437, len: 16, y: 948, label: "Telcos", color: BLUE },
        { x: 485, len: 15, y: 948, label: "ConsCyc", color: TAN },
        { x: 543, len: 19, y: 948, label: "ConsNonCyc", color: DARK },
        { x: 617, len: 13, y: 948, label: "Finance", color: GREY },
        { x: 663, len: 14, y: 948, label: "CapGoods", color: GREEN },
      ]} />
      <Rule left={410} top={967} />
      <Source left={410} top={974} text="Source: Bloomberg Barclays Indices, Pitchbook LCD, UBS" />

      {/* Footer */}
      <Rule left={60} top={1082} width={682} color="#555" />
      <div style={{ position: "absolute", left: 60, top: 1086, fontFamily: FONT, fontSize: 11.5, lineHeight: "14px", color: "#000", whiteSpace: "nowrap" }}>
        <span style={{ fontWeight: 700 }}>Global Strategy</span>
        <span style={{ marginLeft: 6 }}>12 November 2024</span>
      </div>
      <div style={{ position: "absolute", right: 60, top: 1086, fontSize: 11.5, lineHeight: "14px", color: "#000", whiteSpace: "nowrap" }}>
        <span style={{ fontFamily: '"DejaVu Sans", sans-serif', fontSize: 10 }}>❖</span>
        <span style={{ fontFamily: '"Liberation Serif", serif', fontWeight: 700 }}>UBS</span>
        <span style={{ fontFamily: FONT, marginLeft: 5 }}>6</span>
      </div>
    </div>
  );
}
